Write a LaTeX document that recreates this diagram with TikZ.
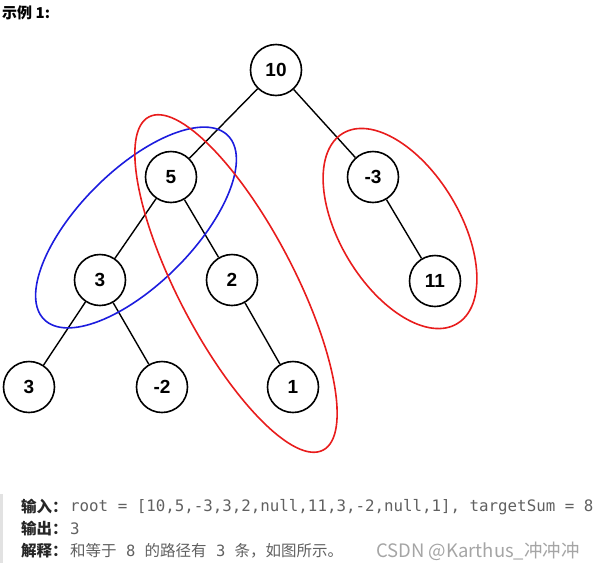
\documentclass[tikz,border=0pt]{standalone}
\usepackage{fontspec}
\setmainfont{Liberation Sans}
\setmonofont{DejaVu Sans Mono}
\newfontfamily\cjk{Noto Sans CJK SC}
\definecolor{ringred}{RGB}{232,28,28}
\definecolor{ringblue}{RGB}{28,28,222}
\definecolor{labelblack}{RGB}{38,38,38}
\definecolor{codegray}{RGB}{96,96,96}
\definecolor{markgray}{RGB}{165,165,165}
\definecolor{bargray}{RGB}{226,226,226}

\begin{document}
\begin{tikzpicture}
[x=1pt,y=-1pt,
  nodedecorate/.style={shape=circle,minimum size=51pt,inner sep=0pt,draw,line width=1.6pt,%
    font=\bfseries\fontsize{19}{19}\selectfont},
  linedecorate/.style={-,line width=1.4pt},
  ringdecorate/.style={line width=1.6pt},
  textdecorate/.style={anchor=west,inner sep=0pt}]
\useasboundingbox (0,0) rectangle (597,571);
%% title
\node (title) at (2,13) [textdecorate,font=\cjk\bfseries\fontsize{15}{15}\selectfont] {示例 1:};
%% nodes or vertices
\foreach \nodename/\nodetext/\x/\y in {n10/10/276/70, n5/5/171/177, nm3/-3/373/177,
  n3/3/100/280, n2/2/232/280, n11/11/435/281, n3b/3/29/387, nm2/-2/162/387, n1/1/293/387} {
  \node (\nodename) at (\x,\y) [nodedecorate] {\nodetext};
}
%% edges or lines
\path
(n10) edge[linedecorate] (n5)
(n10) edge[linedecorate] (nm3)
(n5) edge[linedecorate] (n3)
(n5) edge[linedecorate] (n2)
(nm3) edge[linedecorate] (n11)
(n3) edge[linedecorate] (n3b)
(n3) edge[linedecorate] (nm2)
(n2) edge[linedecorate] (n1);
%% paths with sum 8
\draw[ringdecorate,ringblue,shift={(136,227.5)},rotate=45] (0,0) ellipse [x radius=130,y radius=57];
\draw[ringdecorate,ringred,shift={(236,283.5)},rotate=-62.4] (0,0) ellipse [x radius=188,y radius=58];
\draw[ringdecorate,ringred,shift={(400,228.5)},rotate=-59] (0,0) ellipse [x radius=111,y radius=60];
%% example text
\fill[bargray] (0,494) rectangle (3,563);
\node (inlabel) at (21,507) [textdecorate,text=labelblack,font=\cjk\bfseries\fontsize{15.5}{15.5}\selectfont] {输入：};
\node (intext) at (70,507) [textdecorate,text=codegray,font=\ttfamily\fontsize{15.8}{15.8}\selectfont] {root = [10,5,-3,3,2,null,11,3,-2,null,1], targetSum = 8};
\node (outlabel) at (21,529) [textdecorate,text=labelblack,font=\cjk\bfseries\fontsize{15.5}{15.5}\selectfont] {输出：};
\node (outtext) at (70,529) [textdecorate,text=codegray,font=\ttfamily\fontsize{15.8}{15.8}\selectfont] {3};
\node (whylabel) at (21,551) [textdecorate,text=labelblack,font=\cjk\bfseries\fontsize{15.5}{15.5}\selectfont] {解释：};
\node (whytext) at (70,551) [textdecorate,text=codegray,font=\cjk\fontsize{15.5}{15.5}\selectfont] {和等于{\ttfamily\ 8\ }的路径有{\ttfamily\ 3\ }条，如图所示。};
\node (mark) at (376,551) [textdecorate,text=markgray,font=\cjk\fontsize{18.5}{18.5}\selectfont] {CSDN @Karthus\_冲冲冲};
\end{tikzpicture}
\end{document}
